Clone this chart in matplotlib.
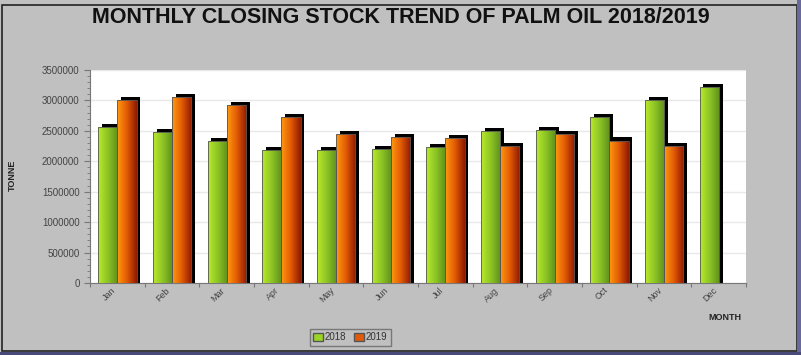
import numpy as np
import matplotlib
matplotlib.use('Agg')
import matplotlib.pyplot as plt
from matplotlib.patches import Rectangle, Patch
from matplotlib.colors import LinearSegmentedColormap

plt.rcParams['font.family'] = ['Liberation Sans', 'DejaVu Sans']

months = ['Jan', 'Feb', 'Mar', 'Apr', 'May', 'Jun', 'Jul', 'Aug', 'Sep', 'Oct', 'Nov', 'Dec']
stock_2018 = [2560000, 2480000, 2330000, 2180000, 2180000, 2200000,
              2230000, 2500000, 2510000, 2720000, 3000000, 3220000]
stock_2019 = [3000000, 3060000, 2920000, 2730000, 2450000, 2400000,
              2380000, 2250000, 2440000, 2340000, 2250000, None]

green = LinearSegmentedColormap.from_list('g', ['#b8ea2c', '#8cc425', '#5f8f1c'])
orange = LinearSegmentedColormap.from_list('o', ['#ff9a10', '#e25a05', '#8e1a00'])

fig = plt.figure(figsize=(8.01, 3.55), dpi=100)
fig.patch.set_facecolor('#c0c0c0')
ax = fig.add_axes([0.1124, 0.203, 0.819, 0.600])
ax.set_facecolor('white')

w = 0.35
x = np.arange(len(months))


def draw_bar(xc, h, cmap):
    # black shadow offset to the right and up
    ax.add_patch(Rectangle((xc + 0.07, 0), w, h + 50000, facecolor='black',
                           edgecolor='none', zorder=2))
    bar = Rectangle((xc, 0), w, h, facecolor='none', edgecolor='#555555',
                    linewidth=0.6, zorder=4)
    ax.add_patch(bar)
    grad = np.linspace(0, 1, 64).reshape(1, -1)
    im = ax.imshow(grad, cmap=cmap, extent=(xc, xc + w, 0, h), aspect='auto',
                   zorder=3, interpolation='bicubic')
    im.set_clip_path(bar)


for i in x:
    draw_bar(i - w, stock_2018[i], green)
    if stock_2019[i] is not None:
        draw_bar(i, stock_2019[i], orange)

ax.set_xlim(-0.5, 11.5)
ax.set_ylim(0, 3500000)
ax.set_yticks(np.arange(0, 3500001, 500000))
ax.set_yticks(np.arange(0, 3500001, 100000), minor=True)
ax.set_yticklabels([str(v) for v in range(0, 3500001, 500000)], fontsize=7, color='#444444')
ax.grid(axis='y', color='#e8e8e8', linewidth=1, zorder=0)
ax.set_axisbelow(True)

ax.set_xticks(np.arange(-0.5, 11.6, 1))
ax.set_xticklabels([])
ax.set_xticks(x, minor=True)
ax.set_xticklabels(months, minor=True, rotation=45, ha='right', va='top',
                   fontsize=6.5, color='#444444')
ax.tick_params(axis='x', which='minor', length=0, pad=2)
ax.tick_params(axis='x', which='major', length=3, color='#777777')
ax.tick_params(axis='y', which='major', length=4, color='#777777')
ax.tick_params(axis='y', which='minor', length=2, color='#777777')

for s in ['top', 'right']:
    ax.spines[s].set_visible(False)
for s in ['left', 'bottom']:
    ax.spines[s].set_color('#777777')

fig.text(0.5, 0.952, 'MONTHLY CLOSING STOCK TREND OF PALM OIL 2018/2019',
         ha='center', va='center', fontsize=15.5, fontweight='bold', color='#111111')
fig.text(0.016, 0.505, 'TONNE', rotation=90, ha='center', va='center',
         fontsize=6.5, fontweight='bold', color='#222222')
fig.text(0.905, 0.105, 'MONTH', ha='center', va='center',
         fontsize=6.5, fontweight='bold', color='#222222')

handles = [Patch(facecolor='#9ad424', edgecolor='#555555', label='2018'),
           Patch(facecolor='#e05a0a', edgecolor='#555555', label='2019')]
leg = fig.legend(handles=handles, loc='center', bbox_to_anchor=(0.437, 0.05), ncol=2,
                 fontsize=7, frameon=True, fancybox=False, handlelength=1.0,
                 handleheight=1.0, handletextpad=0.2, columnspacing=0.8,
                 borderpad=0.35, labelcolor='#333333')
leg.get_frame().set_edgecolor('#666666')
leg.get_frame().set_facecolor('#c0c0c0')
leg.get_frame().set_linewidth(1.0)

# outer frame
fig.patches.append(Rectangle((0.003, 0.012), 0.992, 0.975, transform=fig.transFigure,
                             fill=False, edgecolor='#222222', linewidth=1.2))
fig.patches.append(Rectangle((0.995, 0.0), 0.005, 1.0, transform=fig.transFigure,
                             facecolor='#6a6a9a', edgecolor='none'))
fig.patches.append(Rectangle((0.0, 0.0), 1.0, 0.008, transform=fig.transFigure,
                             facecolor='#4a4a7a', edgecolor='none'))

fig.savefig('out.png', dpi=100, facecolor=fig.get_facecolor())
